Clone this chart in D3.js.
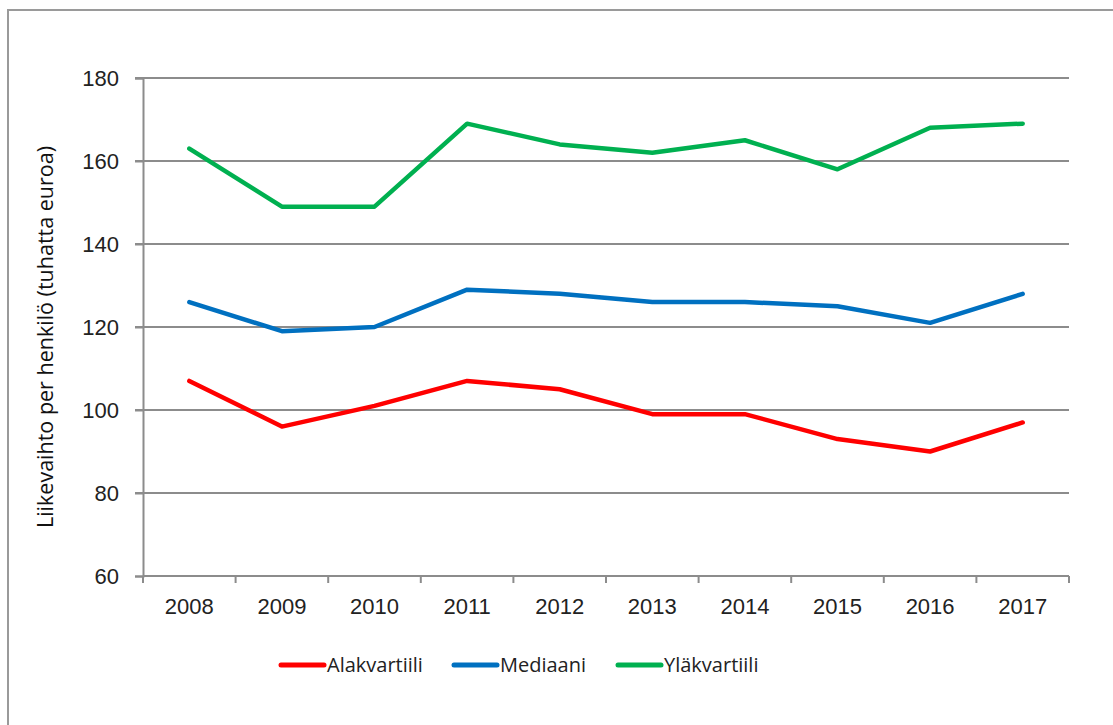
<!DOCTYPE html>
<html>
<head>
<meta charset="utf-8">
<script src="https://cdn.jsdelivr.net/npm/d3@7/dist/d3.min.js"></script>
<style>
  body { margin: 0; background: #fff; }
  svg { display: block; font-family: "Open Sans", sans-serif; }
</style>
</head>
<body>
<svg id="chart" width="1113" height="725"></svg>
<script>
// Data
const years = ["2008", "2009", "2010", "2011", "2012", "2013", "2014", "2015", "2016", "2017"];
const alakvartiili = [107, 96, 101, 107, 105, 99, 99, 93, 90, 97];
const mediaani = [126, 119, 120, 129, 128, 126, 126, 125, 121, 128];
const ylakvartiili = [163, 149, 149, 169, 164, 162, 165, 158, 168, 169];
const yTicks = [60, 80, 100, 120, 140, 160, 180];

const series = [
    { name: "Alakvartiili", values: alakvartiili, color: "#ff0000" },
    { name: "Mediaani", values: mediaani, color: "#0070c0" },
    { name: "Yläkvartiili", values: ylakvartiili, color: "#00b050" }
];

const svg = d3.select("#chart");
const margin = { left: 143, right: 44, top: 78, bottom: 149 };
const width = 1113 - margin.left - margin.right;
const height = 725 - margin.top - margin.bottom;
const axisColor = "#8c8c8c";

// Outer frame
svg.append("path")
    .attr("d", "M8,725 L8,10 L1113,10")
    .attr("fill", "none")
    .attr("stroke", "#9a9a9a")
    .attr("stroke-width", 2);

const g = svg.append("g")
    .attr("transform", `translate(${margin.left},${margin.top})`);

const x = d3.scaleBand().domain(years).range([0, width]);
const y = d3.scaleLinear().domain([60, 180]).range([height, 0]);

// Gridlines
g.selectAll(".grid")
    .data(yTicks.slice(1))
    .enter()
    .append("line")
        .attr("x1", -8)
        .attr("x2", width)
        .attr("y1", d => y(d))
        .attr("y2", d => y(d))
        .attr("stroke", axisColor)
        .attr("stroke-width", 2);

// Y axis
const yAxis = g.append("g")
    .call(d3.axisLeft(y).tickValues(yTicks).tickSize(8).tickPadding(16));
yAxis.select(".domain").attr("stroke", axisColor).attr("stroke-width", 2);
yAxis.selectAll(".tick line").attr("stroke", axisColor).attr("stroke-width", 2);
yAxis.selectAll("text").attr("fill", "#222").style("font-size", "22px");

// X axis
const xAxis = g.append("g")
    .attr("transform", `translate(0,${height})`)
    .call(d3.axisBottom(x).tickSize(0).tickPadding(22));
xAxis.select(".domain").remove();
xAxis.selectAll("text").attr("fill", "#222").style("font-size", "22px");
g.append("line")
    .attr("x1", 0).attr("x2", width)
    .attr("y1", height).attr("y2", height)
    .attr("stroke", axisColor).attr("stroke-width", 2);
const boundaries = years.map(d => x(d)).concat([width]);
g.selectAll(".xtick")
    .data(boundaries)
    .enter()
    .append("line")
        .attr("x1", d => d).attr("x2", d => d)
        .attr("y1", height).attr("y2", height + 7)
        .attr("stroke", axisColor).attr("stroke-width", 2);

// Y label
svg.append("text")
    .attr("transform", `translate(53,${margin.top + height / 2 + 10}) rotate(-90)`)
    .attr("text-anchor", "middle")
    .attr("fill", "#111")
    .style("font-size", "21.5px")
    .text("Liikevaihto per henkilö (tuhatta euroa)");

// Lines
const line = d3.line()
    .x((d, i) => x(years[i]) + x.bandwidth() / 2)
    .y(d => y(d));

g.selectAll(".series")
    .data(series)
    .enter()
    .append("path")
        .attr("d", d => line(d.values))
        .attr("fill", "none")
        .attr("stroke", d => d.color)
        .attr("stroke-width", 4.5)
        .attr("stroke-linejoin", "round")
        .attr("stroke-linecap", "round");

// Legend
const legendX = [281, 454, 618];
const legend = svg.selectAll(".legend")
    .data(series)
    .enter()
    .append("g")
        .attr("transform", (d, i) => `translate(${legendX[i]},665)`);
legend.append("line")
    .attr("x1", 0).attr("x2", 43)
    .attr("stroke", d => d.color)
    .attr("stroke-width", 5)
    .attr("stroke-linecap", "round");
legend.append("text")
    .attr("x", 46)
    .attr("dy", "0.35em")
    .attr("fill", "#222")
    .style("font-size", "20px")
    .text(d => d.name);
</script>
</body>
</html>
